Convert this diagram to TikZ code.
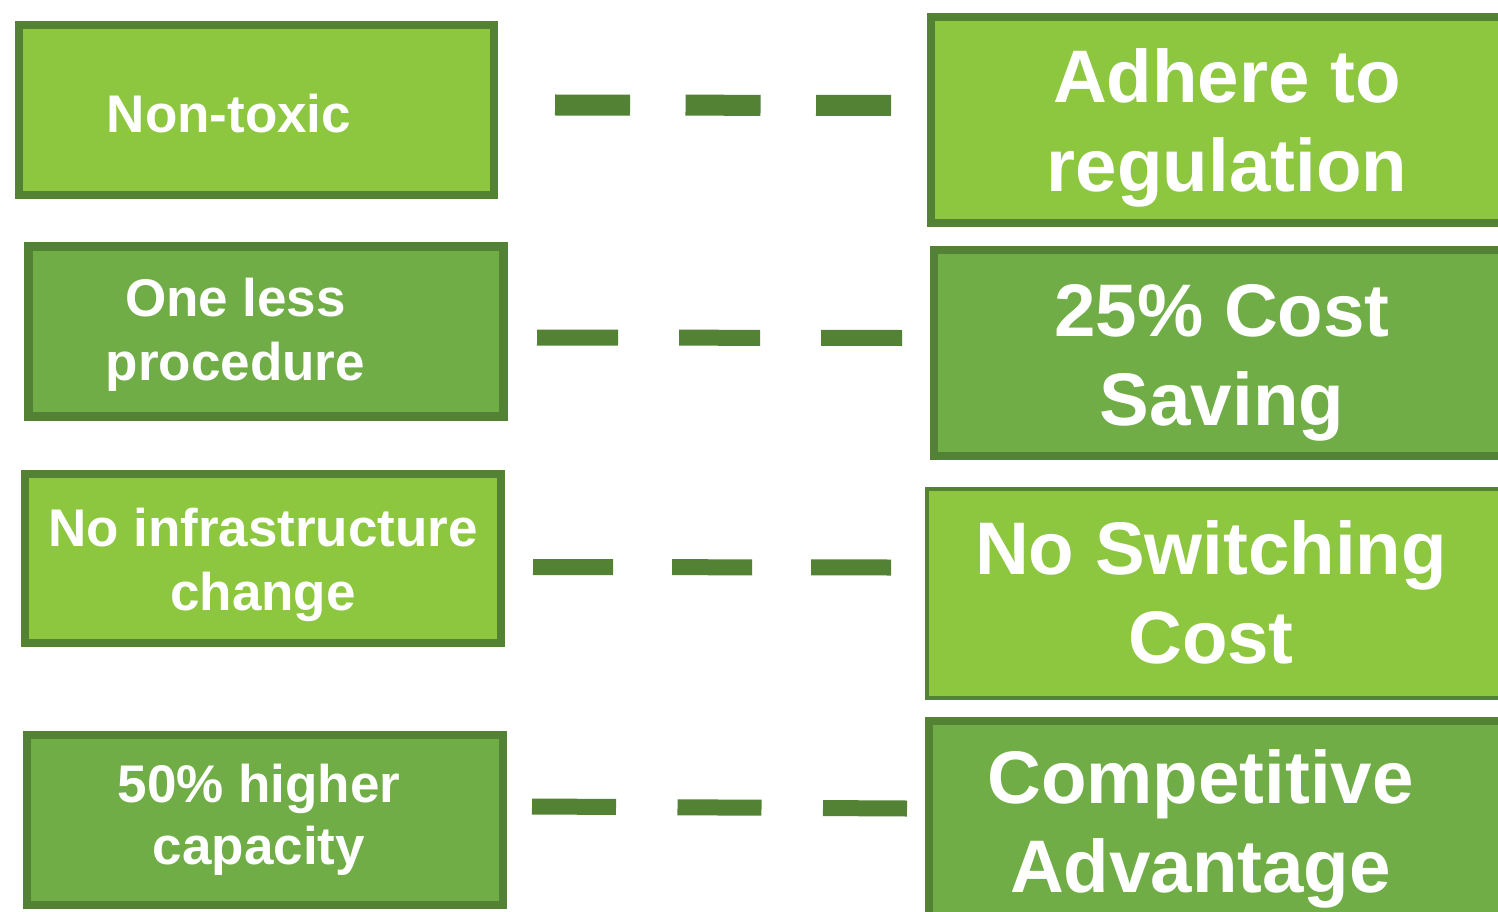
\documentclass[tikz,border=0pt]{standalone}
\usepackage{fontspec}
\setmainfont{Liberation Sans}
\definecolor{lightg}{HTML}{8DC63F}
\definecolor{darkg}{HTML}{70AD47}
\definecolor{edgeg}{HTML}{548235}
\newcommand{\twoln}[2]{\vtop{\halign{\hfil##\hfil\cr #1\cr #2\cr}}}
\begin{document}
\begin{tikzpicture}[x=1pt,y=-1pt,
  boxbase/.style={draw=edgeg, rectangle, inner sep=0pt, outer sep=0pt},
  lightbox/.style={boxbase, fill=lightg},
  darkbox/.style={boxbase, fill=darkg},
  smalltxt/.style={text=white, font=\bfseries\fontsize{53}{64}\selectfont, anchor=base, inner sep=0pt},
  bigtxt/.style={text=white, font=\bfseries\fontsize{74.5}{89}\selectfont, anchor=base, inner sep=0pt},
  dashline/.style={draw=edgeg, line cap=butt}
]
\useasboundingbox (0,0) rectangle (1498,912);
\clip (0,0) rectangle (1498,912);
\fill[white] (0,0) rectangle (1498,912);

% left boxes
\node[lightbox, line width=8pt, minimum width=475pt, minimum height=170pt] (L1) at (256.5,110) {};
\node[darkbox, line width=9pt, minimum width=475pt, minimum height=170pt] (L2) at (266,331.5) {};
\node[lightbox, line width=8pt, minimum width=476pt, minimum height=169pt] (L3) at (263,558.5) {};
\node[darkbox, line width=8pt, minimum width=476pt, minimum height=170pt] (L4) at (265,820) {};

% right boxes (cut off at the right edge)
\node[lightbox, line width=8pt, minimum width=629pt, minimum height=206pt] (R1) at (1245.5,120) {};
\node[darkbox, line width=8pt, minimum width=626pt, minimum height=206pt] (R2) at (1247,353) {};
\node[lightbox, line width=4.5pt, minimum width=633pt, minimum height=209pt] (R3) at (1243.5,593.5) {};
\node[darkbox, line width=8pt, minimum width=631pt, minimum height=239pt] (R4) at (1244.5,840.5) {};

% left texts
\node[smalltxt] (T1) at (229,133) {Non-toxic};
\node[smalltxt] (T2) at (235.5,316) {\twoln{One less}{procedure}};
\node[smalltxt] (T3) at (263,546) {\twoln{No infrastructure}{change}};
\node[smalltxt, font=\bfseries\fontsize{53}{62}\selectfont] (T4) at (259,802) {\twoln{50\% higher}{capacity}};

% right texts
\node[bigtxt] (U1) at (1227,103) {\twoln{Adhere to}{regulation}};
\node[bigtxt] (U2) at (1222,336) {\twoln{25\% Cost}{Saving}};
\node[bigtxt] (U3) at (1211,574) {\twoln{No Switching}{Cost}};
\node[bigtxt] (U4) at (1200.5,803) {\twoln{Competitive}{Advantage}};

% dashed connectors
\coordinate (d1a) at (555,105);  \coordinate (d1b) at (891,105.5);
\coordinate (d2a) at (537,337.5);\coordinate (d2b) at (902,338);
\coordinate (d3a) at (533,567);  \coordinate (d3b) at (891,567.5);
\coordinate (d4a) at (532,806.5);\coordinate (d4b) at (907,808.5);
\draw[dashline, line width=21pt, dash pattern=on 75pt off 55.5pt] (d1a) -- (d1b);
\draw[dashline, line width=16pt, dash pattern=on 81pt off 61pt] (d2a) -- (d2b);
\draw[dashline, line width=16pt, dash pattern=on 80pt off 59pt] (d3a) -- (d3b);
\draw[dashline, line width=16pt, dash pattern=on 84pt off 61.5pt] (d4a) -- (d4b);
\end{tikzpicture}
\end{document}
